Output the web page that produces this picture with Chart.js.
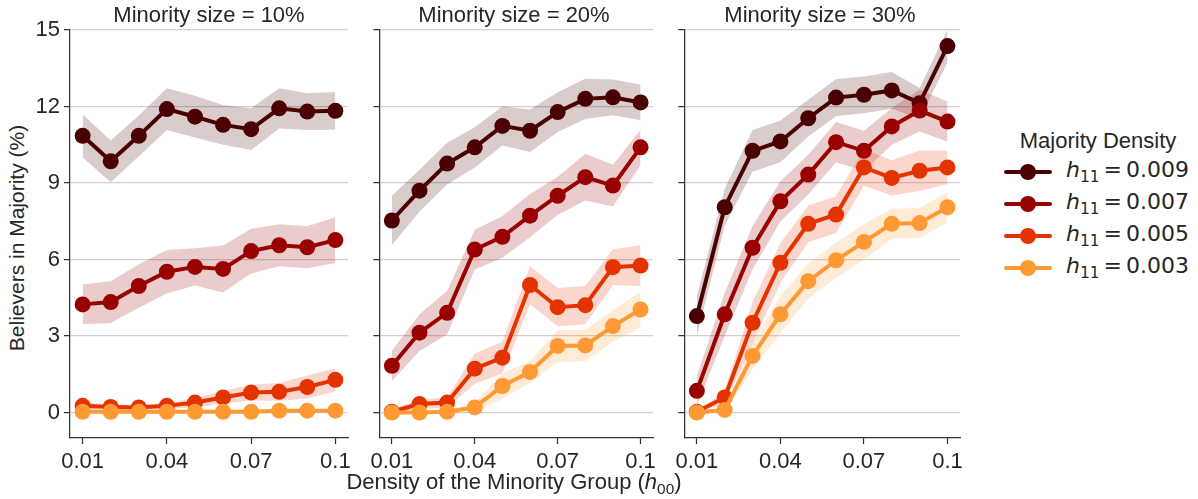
<!DOCTYPE html>
<html>
<head>
<meta charset="utf-8">
<script src="https://cdn.jsdelivr.net/npm/chart.js@4"></script>
<style>
  body { margin: 0; background: #fff; width: 1198px; height: 499px; position: relative; overflow: hidden;
         font-family: "Liberation Sans", Arial, sans-serif; color: #262626; }
  canvas { position: absolute; top: 0; }
  .title { position: absolute; top: 2px; font-size: 22px; transform: translateX(-50%); white-space: nowrap; }
  .xlabel { position: absolute; top: 469px; left: 514px; font-size: 22px; transform: translateX(-50%); white-space: nowrap; }
  .ylabel { position: absolute; left: 17px; top: 238px; font-size: 21px; white-space: nowrap;
            transform: translate(-50%, -50%) rotate(-90deg); }
  .legend-title { position: absolute; left: 1098px; top: 128px; font-size: 22px; transform: translateX(-50%); white-space: nowrap; }
  .entry { position: absolute; left: 1004px; height: 20px; }
  .entry .ln { position: absolute; left: 0; top: 8px; width: 48px; height: 4px; border-radius: 2px; }
  .entry .dot { position: absolute; left: 16px; top: 2px; width: 16px; height: 16px; border-radius: 50%; }
  .entry .txt { position: absolute; left: 62px; top: -5px; font-family: "DejaVu Sans", sans-serif; font-size: 22px; white-space: nowrap; }
  .txt .eq { margin: 0 4px; }
  .txt sub, .xlabel sub { font-size: 70%; vertical-align: -0.3em; line-height: 0; }
</style>
</head>
<body>
<canvas id="p0"></canvas>
<canvas id="p1"></canvas>
<canvas id="p2"></canvas>
<div class="ylabel">Believers in Majority (%)</div>
<div class="xlabel">Density of the Minority Group (<i>h</i><sub>00</sub>)</div>
<div class="legend-title">Majority Density</div>
<div id="legend"></div>
<script>
// x positions and ticks
const xVals = [0.01, 0.02, 0.03, 0.04, 0.05, 0.06, 0.07, 0.08, 0.09, 0.1];
const xTicks = [0.01, 0.04, 0.07, 0.1];
const yTicks = [0, 3, 6, 9, 12, 15];
const panelTitles = ["Minority size = 10%", "Minority size = 20%", "Minority size = 30%"];
const seriesLabels = ["0.009", "0.007", "0.005", "0.003"];
const seriesColors = ["#4a0000", "#990000", "#e53300", "#ff9933"];
const bandColors = ["rgba(74,0,0,0.2)", "rgba(153,0,0,0.2)", "rgba(229,51,0,0.2)", "rgba(255,153,51,0.2)"];

// Minority size = 10% (mean, half width of band)
const m10_009 = [10.85, 9.85, 10.85, 11.9, 11.6, 11.28, 11.11, 11.93, 11.8, 11.83];
const e10_009 = [0.85, 0.82, 0.8, 0.82, 0.82, 0.78, 0.82, 0.79, 0.72, 0.74];
const m10_007 = [4.24, 4.33, 4.96, 5.52, 5.71, 5.63, 6.33, 6.56, 6.48, 6.76];
const e10_007 = [0.78, 0.82, 0.85, 0.85, 0.73, 0.92, 0.88, 0.82, 0.82, 0.9];
const m10_005 = [0.26, 0.22, 0.2, 0.26, 0.39, 0.59, 0.78, 0.81, 1.0, 1.28];
const e10_005 = [0.12, 0.1, 0.1, 0.12, 0.18, 0.25, 0.31, 0.35, 0.45, 0.45];
const m10_003 = [0.03, 0.03, 0.03, 0.03, 0.03, 0.03, 0.03, 0.07, 0.07, 0.07];
const e10_003 = [0.03, 0.03, 0.03, 0.03, 0.03, 0.03, 0.03, 0.04, 0.04, 0.04];

// Minority size = 20%
const m20_009 = [7.53, 8.7, 9.76, 10.4, 11.24, 11.05, 11.78, 12.3, 12.36, 12.16];
const e20_009 = [0.97, 0.82, 0.82, 0.79, 0.77, 0.83, 0.78, 0.79, 0.7, 0.7];
const m20_007 = [1.83, 3.13, 3.91, 6.39, 6.89, 7.72, 8.5, 9.23, 8.9, 10.4];
const e20_007 = [0.59, 0.72, 0.85, 0.78, 0.82, 0.85, 0.75, 0.92, 0.82, 0.69];
const m20_005 = [0.03, 0.33, 0.39, 1.72, 2.15, 5.0, 4.13, 4.21, 5.7, 5.76];
const e20_005 = [0.1, 0.18, 0.2, 0.59, 0.62, 0.75, 0.75, 0.75, 0.7, 0.8];
const m20_003 = [0.0, 0.0, 0.03, 0.2, 1.04, 1.59, 2.61, 2.63, 3.39, 4.04];
const e20_003 = [0.03, 0.03, 0.05, 0.2, 0.49, 0.43, 0.62, 0.62, 0.62, 0.7];

// Minority size = 30%
const m30_009 = [3.78, 8.05, 10.26, 10.63, 11.54, 12.35, 12.46, 12.63, 12.13, 14.37];
const e30_009 = [0.78, 0.72, 0.82, 0.82, 0.72, 0.73, 0.72, 0.72, 0.6, 0.65];
const m30_007 = [0.85, 3.85, 6.46, 8.28, 9.33, 10.6, 10.26, 11.22, 11.84, 11.41];
const e30_007 = [0.59, 0.85, 0.85, 0.79, 0.78, 0.79, 0.79, 0.72, 0.82, 0.79];
const m30_005 = [0.03, 0.59, 3.52, 5.87, 7.4, 7.76, 9.61, 9.2, 9.48, 9.61];
const e30_005 = [0.03, 0.25, 0.82, 0.78, 0.72, 0.72, 0.72, 0.69, 0.79, 0.65];
const m30_003 = [0.0, 0.1, 2.22, 3.85, 5.15, 5.97, 6.69, 7.4, 7.43, 8.05];
const e30_003 = [0.03, 0.1, 0.52, 0.72, 0.69, 0.69, 0.69, 0.59, 0.59, 0.59];

const panelMeans = [
  [m10_009, m10_007, m10_005, m10_003],
  [m20_009, m20_007, m20_005, m20_003],
  [m30_009, m30_007, m30_005, m30_003],
];
const panelErrs = [
  [e10_009, e10_007, e10_005, e10_003],
  [e20_009, e20_007, e20_005, e20_003],
  [e30_009, e30_007, e30_005, e30_003],
];

// canvas boxes: plot areas at x 70-348, 375-653, 680-960; y 30-438
const boxes = [
  { left: 30, width: 330, yw: 40, padR: 12 },
  { left: 365, width: 300, yw: 10, padR: 12 },
  { left: 670, width: 300, yw: 10, padR: 10 },
];

Chart.defaults.font.family = '"Liberation Sans", Arial, sans-serif';
Chart.defaults.color = "#262626";

function buildDatasets(means, errs) {
  const ds = [];
  means.forEach((m, k) => {
    const base = 3 * (means.length - k);
    ds.push({
      data: m.map((v, i) => ({ x: xVals[i], y: v + errs[k][i] })),
      borderWidth: 0, pointRadius: 0, fill: false, order: base,
    });
    ds.push({
      data: m.map((v, i) => ({ x: xVals[i], y: v - errs[k][i] })),
      borderWidth: 0, pointRadius: 0, fill: "-1", backgroundColor: bandColors[k], order: base,
    });
    ds.push({
      data: m.map((v, i) => ({ x: xVals[i], y: v })),
      borderColor: seriesColors[k], borderWidth: 4, pointRadius: 8,
      pointBackgroundColor: seriesColors[k], pointBorderWidth: 0, order: base - 1,
    });
  });
  return ds;
}

panelMeans.forEach((means, p) => {
  const b = boxes[p];
  const cv = document.getElementById("p" + p);
  cv.style.left = b.left + "px";
  cv.width = b.width;
  cv.height = 499;

  const t = document.createElement("div");
  t.className = "title";
  t.textContent = panelTitles[p];
  t.style.left = (b.left + b.yw + (b.width - b.yw - b.padR) / 2) + "px";
  document.body.appendChild(t);

  new Chart(cv, {
    type: "line",
    data: { datasets: buildDatasets(means, panelErrs[p]) },
    options: {
      responsive: false,
      animation: false,
      devicePixelRatio: 1,
      layout: { padding: { top: 30, right: b.padR, bottom: 21, left: 0 } },
      plugins: { legend: { display: false }, tooltip: { enabled: false } },
      elements: { line: { tension: 0 } },
      scales: {
        x: {
          type: "linear", min: 0.0055, max: 0.1045,
          afterBuildTicks: (s) => { s.ticks = xTicks.map((v) => ({ value: v })); },
          afterFit: (s) => { s.height = 40; },
          ticks: { callback: (v) => String(v), font: { size: 22 }, color: "#262626", padding: 5, maxRotation: 0, autoSkip: false },
          grid: { drawOnChartArea: false, drawTicks: true, tickLength: 6, tickColor: "#333", tickWidth: 1.25 },
          border: { color: "#333", width: 1.25 },
        },
        y: {
          min: -1, max: 15,
          afterBuildTicks: (s) => { s.ticks = yTicks.map((v) => ({ value: v })); },
          afterFit: (s) => { s.width = b.yw; },
          ticks: { display: p === 0, font: { size: 22 }, color: "#262626", padding: 4 },
          grid: { color: "#d0d0d0", lineWidth: 1.25, drawTicks: true, tickLength: 6, tickColor: "#333", tickWidth: 1.25 },
          border: { color: "#333", width: 1.25 },
        },
      },
    },
  });
});

// legend
const legend = document.getElementById("legend");
const rowY = [162, 194, 226, 258];
seriesLabels.forEach((lab, k) => {
  const e = document.createElement("div");
  e.className = "entry";
  e.style.top = rowY[k] + "px";
  e.innerHTML = '<div class="ln" style="background:' + seriesColors[k] + '"></div>' +
    '<div class="dot" style="background:' + seriesColors[k] + '"></div>' +
    '<div class="txt"><i>h</i><sub>11</sub><span class="eq">=</span>' + lab + '</div>';
  legend.appendChild(e);
});
</script>
</body>
</html>
